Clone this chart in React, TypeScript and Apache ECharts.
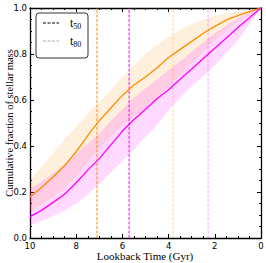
import React, { useEffect, useRef } from "react";
import * as echarts from "echarts";

const ages = [10, 9.5, 9, 8.5, 8, 7.5, 7, 6.5, 6, 5.5, 5, 4.5, 4, 3.5, 3, 2.5, 2, 1.5, 1, 0.5, 0];

const orangeMedian = [0.178, 0.22, 0.265, 0.315, 0.375, 0.445, 0.51, 0.565, 0.62, 0.665, 0.7, 0.74, 0.785, 0.82, 0.855, 0.89, 0.92, 0.948, 0.967, 0.984, 1.0];
const orangeUpper = [0.25, 0.31, 0.37, 0.43, 0.485, 0.54, 0.59, 0.645, 0.7, 0.75, 0.8, 0.84, 0.875, 0.905, 0.93, 0.95, 0.965, 0.978, 0.988, 0.995, 1.0];
const orangeLower = [0.115, 0.145, 0.18, 0.22, 0.27, 0.33, 0.39, 0.44, 0.49, 0.53, 0.565, 0.61, 0.66, 0.71, 0.76, 0.81, 0.86, 0.9, 0.94, 0.97, 1.0];

const magentaMedian = [0.093, 0.12, 0.155, 0.19, 0.24, 0.295, 0.345, 0.405, 0.465, 0.515, 0.56, 0.605, 0.645, 0.69, 0.735, 0.78, 0.825, 0.87, 0.915, 0.958, 1.0];
const magentaUpper = [0.215, 0.245, 0.28, 0.32, 0.365, 0.41, 0.455, 0.51, 0.56, 0.61, 0.65, 0.69, 0.73, 0.77, 0.81, 0.85, 0.89, 0.925, 0.955, 0.98, 1.0];
const magentaLower = [0.057, 0.075, 0.095, 0.12, 0.15, 0.19, 0.235, 0.285, 0.335, 0.385, 0.44, 0.49, 0.555, 0.61, 0.66, 0.705, 0.75, 0.805, 0.86, 0.93, 1.0];

const t50 = { orange: 7.1, magenta: 5.71 };
const t80 = { orange: 3.81, magenta: 2.29 };

const legendLabels = ["50", "80"];
const xTitle = "Lookback Time (Gyr)";
const yTitle = "Cumulative fraction of stellar mass";

const ORANGE = "#ff8c00";
const MAGENTA = "#ff00ff";
const SERIF = "'Liberation Serif', 'DejaVu Serif', serif";
const SANS = "'DejaVu Sans', sans-serif";

function band(upper: number[], lower: number[], fill: string) {
  return {
    type: "custom",
    silent: true,
    clip: true,
    z: 1,
    data: [[ages[0], upper[0]]],
    renderItem: (_p: any, api: any) => {
      const top = ages.map((a, i) => api.coord([a, upper[i]]));
      const bot = ages.map((a, i) => api.coord([a, lower[i]])).reverse();
      return { type: "polygon", shape: { points: top.concat(bot) }, style: { fill } };
    },
  };
}

function vline(x: number, color: string, opacity: number) {
  return {
    type: "line",
    silent: true,
    symbol: "none",
    z: 3,
    data: [[x, 0], [x, 1]],
    lineStyle: { color, width: 1, type: [3, 1.5], opacity },
  };
}

function legendGraphic() {
  const colors = ["#000", "rgba(0,0,0,0.35)"];
  const rowY = [23, 41];
  const children: any[] = [
    {
      type: "rect",
      shape: { x: 36, y: 13, width: 52, height: 45, r: 3 },
      style: { fill: "#fff", stroke: "#333", lineWidth: 1 },
    },
  ];
  legendLabels.forEach((lab, i) => {
    children.push({
      type: "line",
      shape: { x1: 43, y1: rowY[i], x2: 59, y2: rowY[i] },
      style: { stroke: colors[i], lineWidth: 1, lineDash: [3, 1.5] },
    });
    children.push({
      type: "text",
      x: 70,
      y: rowY[i],
      style: {
        text: "{t|t}{s|" + lab + "}",
        verticalAlign: "middle",
        rich: {
          t: { fontFamily: SERIF, fontSize: 12, fill: "#000" },
          s: { fontFamily: SERIF, fontSize: 8, fill: "#000", verticalAlign: "bottom", padding: [7, 0, 0, 0] },
        },
      },
    });
  });
  return { type: "group", z: 100, children };
}

export default function App() {
  const ref = useRef<HTMLDivElement>(null);
  useEffect(() => {
    document.body.style.margin = "0";
    document.body.style.overflow = "hidden";
    document.documentElement.style.overflow = "hidden";
    if (!ref.current) return;
    const chart = echarts.init(ref.current, null, { renderer: "svg" });
    const axisLine = { show: true, onZero: false, lineStyle: { color: "#000", width: 1.3 } };
    const tick = { inside: true, length: 4, lineStyle: { color: "#000", width: 1 } };
    const minor = { show: true, splitNumber: 4, length: 2, lineStyle: { color: "#000", width: 1 } };
    const xCommon = {
      type: "value",
      min: 0,
      max: 10,
      interval: 2,
      inverse: true,
      axisLine,
      splitLine: { show: false },
      axisTick: tick,
      minorTick: minor,
    };
    const yCommon = {
      type: "value",
      min: 0,
      max: 1,
      interval: 0.2,
      axisLine,
      splitLine: { show: false },
      axisTick: tick,
      minorTick: minor,
    };
    chart.setOption({
      animation: false,
      grid: { left: 30, top: 8, right: 5, bottom: 25, containLabel: false, outerBoundsMode: "none" },
      graphic: [
        legendGraphic(),
        {
          type: "text",
          x: 145,
          y: 256,
          style: { text: xTitle, fontFamily: SERIF, fontSize: 11, fill: "#000", align: "center", verticalAlign: "middle" },
        },
        {
          type: "text",
          x: 9,
          y: 123,
          rotation: Math.PI / 2,
          style: { text: yTitle, fontFamily: SERIF, fontSize: 10.5, fill: "#000", align: "center", verticalAlign: "middle" },
        },
      ],
      xAxis: [
        {
          ...xCommon,
          position: "bottom",
          axisLabel: {
            fontFamily: SANS,
            fontSize: 8.5,
            color: "#000",
            margin: 3,
            showMinLabel: true,
            showMaxLabel: true,
          },
        },
        { ...xCommon, position: "top", axisLabel: { show: false } },
      ],
      yAxis: [
        {
          ...yCommon,
          position: "left",
          axisLabel: {
            fontFamily: SANS,
            fontSize: 8.5,
            color: "#000",
            margin: 3,
            showMinLabel: true,
            showMaxLabel: true,
            formatter: (v: number) => v.toFixed(1),
          },
        },
        { ...yCommon, position: "right", axisLabel: { show: false } },
      ],
      series: [
        band(orangeUpper, orangeLower, "rgba(255,140,0,0.13)"),
        band(magentaUpper, magentaLower, "rgba(255,0,255,0.15)"),
        {
          type: "line",
          symbol: "none",
          z: 4,
          data: ages.map((a, i) => [a, orangeMedian[i]]),
          lineStyle: { color: ORANGE, width: 1.3 },
        },
        {
          type: "line",
          symbol: "none",
          z: 4,
          data: ages.map((a, i) => [a, magentaMedian[i]]),
          lineStyle: { color: MAGENTA, width: 1.3 },
        },
        vline(t50.orange, ORANGE, 1),
        vline(t50.magenta, MAGENTA, 1),
        vline(t80.orange, ORANGE, 0.35),
        vline(t80.magenta, MAGENTA, 0.35),
      ],
    });
    return () => chart.dispose();
  }, []);
  return <div ref={ref} style={{ width: 266, height: 263 }} />;
}
